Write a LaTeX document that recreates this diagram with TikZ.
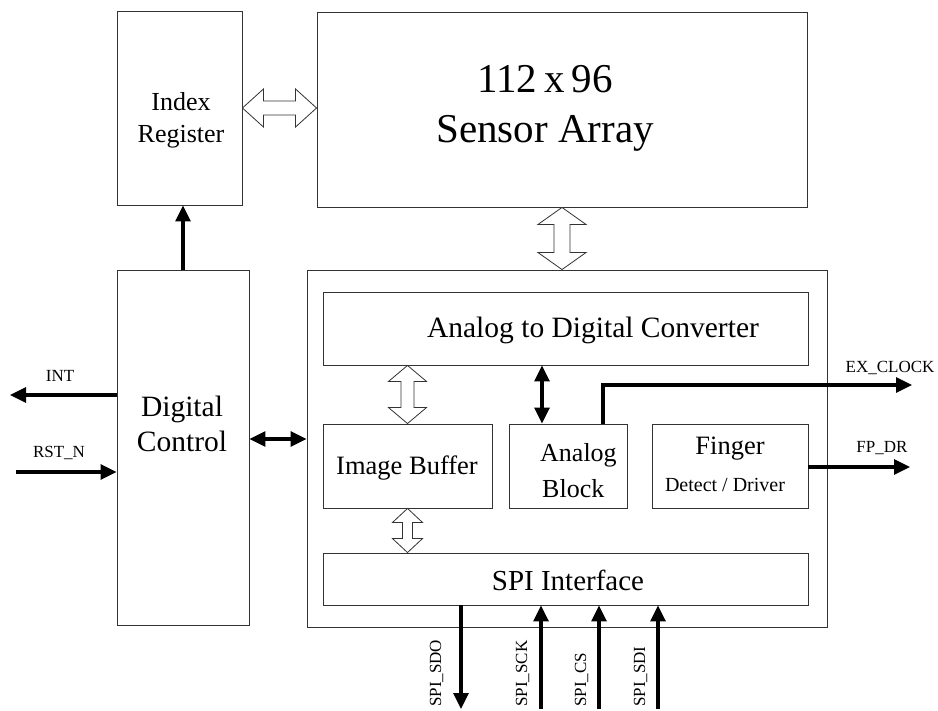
\documentclass[tikz,border=0pt]{standalone}
\usepackage{fontspec}
\setmainfont{Liberation Serif}
\usetikzlibrary{arrows.meta,calc}
\tikzset{
  blk/.style={draw=black!80, line width=0.9pt, inner sep=0pt},
  hollow/.style={draw=black!80, line width=0.8pt, fill=white, line join=miter},
  sig/.style={line width=3.2pt, -{Triangle[length=16pt,width=15pt]}},
  bisig/.style={line width=3.2pt, {Triangle[length=16pt,width=15pt]}-{Triangle[length=16pt,width=15pt]}},
  txt/.style={inner sep=0pt, align=center},
  lbl/.style={inner sep=0pt, font=\fontsize{17}{20}\selectfont},
}
% vertical hollow double arrow: x from #1, from #2 (top) to #3 (bottom); head half width, shaft half width, head length
\newcommand\hollowV[6]{%
  \draw[hollow] let \p1=(#1), \p2=(#2), \p3=(#3) in
    (\x1,\y2) -- ({\x1+#4pt},{\y2-#6pt}) -- ({\x1+#5pt},{\y2-#6pt}) -- ({\x1+#5pt},{\y3+#6pt})
    -- ({\x1+#4pt},{\y3+#6pt}) -- (\x1,\y3) -- ({\x1-#4pt},{\y3+#6pt}) -- ({\x1-#5pt},{\y3+#6pt})
    -- ({\x1-#5pt},{\y2-#6pt}) -- ({\x1-#4pt},{\y2-#6pt}) -- cycle;}
% horizontal hollow double arrow: y from #1, from #2 (left) to #3 (right)
\newcommand\hollowH[6]{%
  \draw[hollow] let \p1=(#1), \p2=(#2), \p3=(#3) in
    (\x2,\y1) -- ({\x2+#6pt},{\y1+#4pt}) -- ({\x2+#6pt},{\y1+#5pt}) -- ({\x3-#6pt},{\y1+#5pt})
    -- ({\x3-#6pt},{\y1+#4pt}) -- (\x3,\y1) -- ({\x3-#6pt},{\y1-#4pt}) -- ({\x3-#6pt},{\y1-#5pt})
    -- ({\x2+#6pt},{\y1-#5pt}) -- ({\x2+#6pt},{\y1-#4pt}) -- cycle;}
\begin{document}
\begin{tikzpicture}[x=1pt,y=-1pt]
\useasboundingbox (0,0) rectangle (938,711);

% boxes
\node[blk, minimum width=125pt, minimum height=194pt] (ir) at (179.5,108) {};
\node[blk, minimum width=490pt, minimum height=195pt] (sa) at (562,109.5) {};
\node[blk, minimum width=132pt, minimum height=355pt] (dc) at (183,447.5) {};
\node[blk, minimum width=520pt, minimum height=357pt] (main) at (567,448.5) {};
\node[blk, minimum width=485pt, minimum height=73pt] (adc) at (565.5,328.5) {};
\node[blk, minimum width=169pt, minimum height=84pt] (ib) at (407.5,466) {};
\node[blk, minimum width=118pt, minimum height=84pt] (ab) at (568,466) {};
\node[blk, minimum width=156pt, minimum height=84pt] (fd) at (730,466) {};
\node[blk, minimum width=485pt, minimum height=52pt] (spi) at (565.5,579) {};

% texts
\node[txt, font=\fontsize{26}{32}\selectfont] (irt) at (181,120) {Index\\Register};
\node[txt, font=\fontsize{41}{50}\selectfont] (sat) at (545,108) {112\,x\,96\\Sensor Array};
\node[txt, font=\fontsize{29.5}{35}\selectfont] (dct) at (182,424) {Digital\\Control};
\node[txt, anchor=base, font=\fontsize{29.5}{35}\selectfont] (adct) at (593,338) {Analog to Digital Converter};
\node[txt, anchor=base, font=\fontsize{26.5}{32}\selectfont] (ibt) at (407,475) {Image Buffer};
\node[txt, anchor=base west, font=\fontsize{26}{32}\selectfont] (abt1) at (540,461) {Analog};
\node[txt, anchor=base west, font=\fontsize{26}{32}\selectfont] (abt2) at (542,497) {Block};
\node[txt, anchor=base, font=\fontsize{26.5}{32}\selectfont] (fdt1) at (730,455) {Finger};
\node[txt, anchor=base, font=\fontsize{20}{24}\selectfont] (fdt2) at (725,492) {Detect / Driver};
\node[txt, anchor=base, font=\fontsize{29}{35}\selectfont] (spit) at (568,590) {SPI Interface};

% hollow bus arrows
\hollowH{ir.east}{ir.east}{sa.west}{19}{7}{21}
\hollowV{sa.south}{sa.south}{main.north}{24}{8}{17}
\hollowV{ib.north}{adc.south}{ib.north}{19}{6.5}{16}
\hollowV{ib.south}{ib.south}{spi.north}{15}{5}{14}

% signal end points
\coordinate (intend) at (10,395);
\coordinate (rstin) at (16,472);
\coordinate (dcm) at (0,439);
\coordinate (abx) at (542,0);
\coordinate (exsrc) at (603,0);
\coordinate (exclk) at (912,385);
\coordinate (fpdr) at (910,467);
\coordinate (sdo) at (461,709);
\coordinate (sck) at (541,709);
\coordinate (scs) at (599,709);
\coordinate (sdi) at (658,709);

% signal arrows
\draw[sig] (dc.north) -- (dc.north |- ir.south);
\draw[sig] (dc.west |- intend) -- (intend);
\draw[sig] (rstin) -- (rstin -| dc.west);
\draw[bisig] (dc.east |- dcm) -- (main.west |- dcm);
\draw[bisig] (adc.south -| abx) -- (ab.north -| abx);
\draw[sig] (ab.north -| exsrc) |- (exclk);
\draw[sig] (fd.east |- fpdr) -- (fpdr);
\draw[sig] (spi.south -| sdo) -- (sdo);
\draw[sig] (sck) -- (spi.south -| sck);
\draw[sig] (scs) -- (spi.south -| scs);
\draw[sig] (sdi) -- (spi.south -| sdi);

% labels
\node[lbl, anchor=base] (intl) at (60,382) {INT};
\node[lbl, anchor=base] (rstl) at (59,458) {RST\_N};
\node[lbl, anchor=base] (exl) at (890,373) {EX\_CLOCK};
\node[lbl, anchor=base] (fpl) at (882,453) {FP\_DR};
\node[lbl, anchor=base west, rotate=90] (sdol) at (441,707) {SPI\_SDO};
\node[lbl, anchor=base west, rotate=90] (sckl) at (527,707) {SPI\_SCK};
\node[lbl, anchor=base west, rotate=90] (csl) at (586,707) {SPI\_CS};
\node[lbl, anchor=base west, rotate=90] (sdil) at (645,707) {SPI\_SDI};
\end{tikzpicture}
\end{document}
